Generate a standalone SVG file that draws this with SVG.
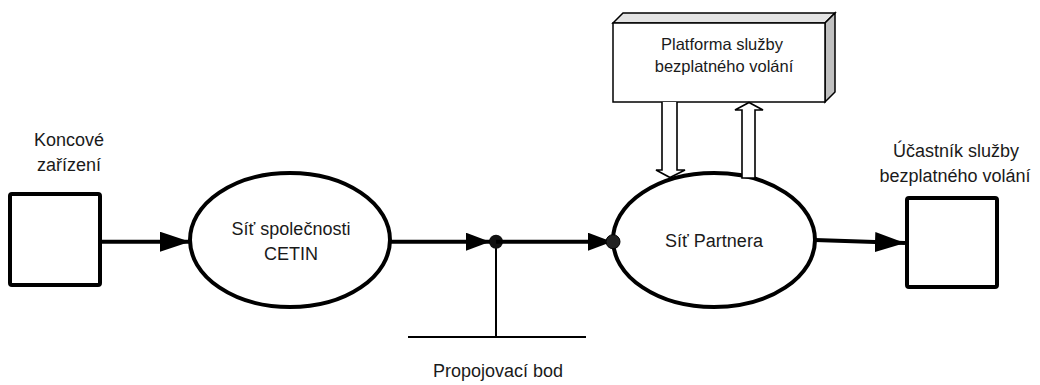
<svg xmlns="http://www.w3.org/2000/svg" width="1040" height="385" viewBox="0 0 1040 385">
<style>
.t{font-family:"Liberation Sans",Arial,sans-serif;font-size:18px;fill:#1a1a1a;text-anchor:middle}
.ts{font-size:16.5px}
.box{fill:#fff;stroke:#000;stroke-width:4}
.ell{fill:#fff;stroke:#000;stroke-width:4}
.ln{stroke:#000;stroke-width:4;fill:none}
.thin{stroke:#000;stroke-width:2;fill:none}
.hollow{fill:#fff;stroke:#000;stroke-width:1.6;stroke-linejoin:miter}
</style>
<defs>
<marker id="ah" viewBox="0 0 30 20" refX="30" refY="10" markerUnits="userSpaceOnUse" markerWidth="30" markerHeight="20" orient="auto">
<path d="M0,0 L30,10 L0,20 Z" fill="#000"/>
</marker>
<marker id="ah2" viewBox="0 0 24 18" refX="24" refY="9" markerUnits="userSpaceOnUse" markerWidth="24" markerHeight="18" orient="auto">
<path d="M0,0 L24,9 L0,18 Z" fill="#000"/>
</marker>
</defs>

<g id="koncove">
<rect class="box" x="10" y="194" width="90" height="91" rx="2"/>
<text class="t" x="69" y="146">Koncové</text>
<text class="t" x="69" y="171">zařízení</text>
</g>

<g id="cetin">
<ellipse class="ell" cx="290" cy="240" rx="100" ry="67"/>
<text class="t" x="291" y="235">Síť společnosti</text>
<text class="t" x="291" y="260">CETIN</text>
</g>

<g id="partner">
<ellipse class="ell" cx="714" cy="240" rx="101" ry="67"/>
<text class="t" x="714" y="247">Síť Partnera</text>
</g>

<g id="ucastnik">
<rect class="box" x="907" y="198" width="90" height="89" rx="2"/>
<text class="t" x="956" y="157">Účastník služby</text>
<text class="t" x="955" y="182">bezplatného volání</text>
</g>

<g id="platforma">
<path d="M613,23 L623,13 L835,13 L825,23 Z" fill="#e3e3e3" stroke="#000" stroke-width="1.5"/>
<path d="M825,23 L835,13 L835,92 L825,102 Z" fill="#c0c0c0" stroke="#000" stroke-width="1.5"/>
<rect x="613" y="23" width="212" height="79" fill="#fff" stroke="#000" stroke-width="1.5"/>
<text class="t ts" x="722" y="50">Platforma služby</text>
<text class="t ts" x="724" y="72">bezplatného volání</text>
</g>

<g id="propojovaci-bod">
<line class="thin" x1="408" y1="337" x2="586" y2="337"/>
<line class="thin" x1="496" y1="241.7" x2="496" y2="337"/>
<circle cx="496" cy="241.7" r="7" fill="#111"/>
<text class="t" x="498" y="377">Propojovací bod</text>
</g>

<g id="connectors">
<line class="ln" x1="100" y1="241.7" x2="190" y2="241.7" marker-end="url(#ah)"/>
<line class="ln" x1="390" y1="241.7" x2="490" y2="241.7" marker-end="url(#ah2)"/>
<line class="ln" x1="496" y1="241.7" x2="612" y2="241.7" marker-end="url(#ah2)"/>
<circle cx="613" cy="241.7" r="7" fill="#222" stroke="#000" stroke-width="1"/>
<line class="ln" x1="815" y1="240" x2="905" y2="243" marker-end="url(#ah)"/>
<path class="hollow" d="M662,102 L662,170 L656,170 L670,177.5 L685,170 L677,170 L677,102"/>
<path class="hollow" d="M742,178 L742,110 L735,110 L749,102.5 L763,110 L755,110 L755,178 Z"/>
</g>
</svg>
